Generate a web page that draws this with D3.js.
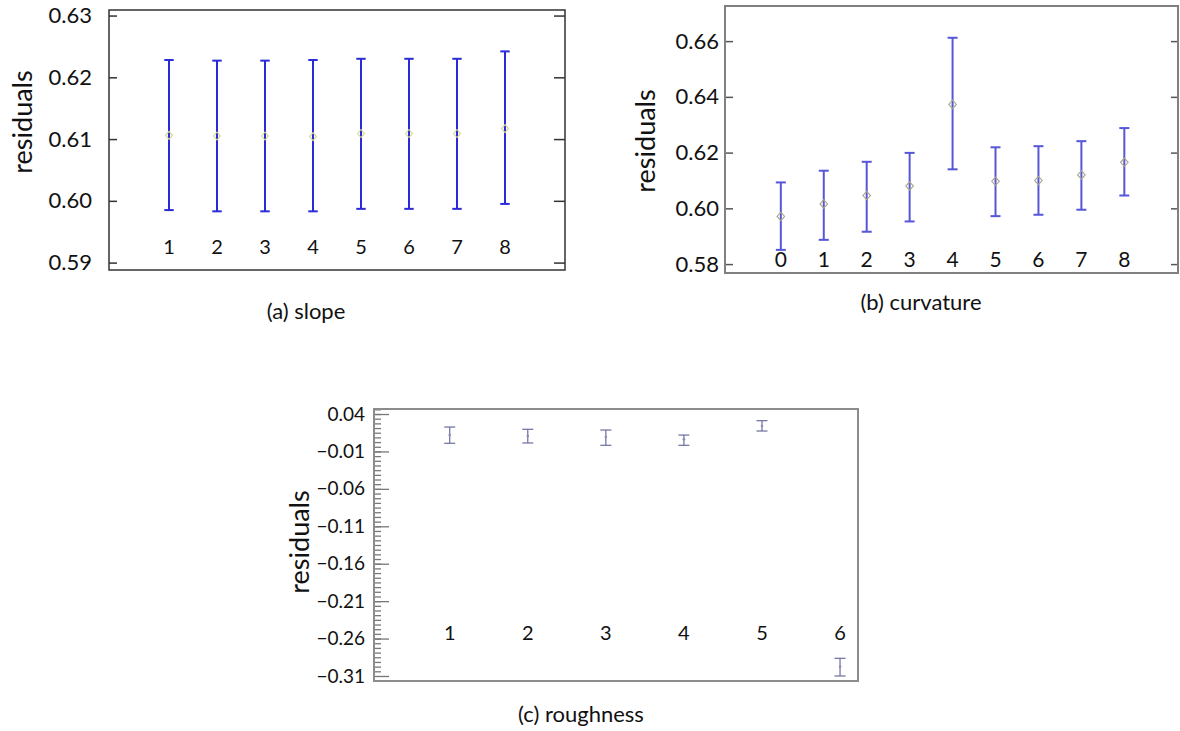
<!DOCTYPE html>
<html><head><meta charset="utf-8">
<script src="https://cdn.jsdelivr.net/npm/d3@7"></script>
<style>body{margin:0;background:#fff}</style>
</head><body><svg id="c" width="1180" height="731" style="background:#fff"></svg>
<script>
// ---------- (a) slope ----------
const slopeCats  = [1,2,3,4,5,6,7,8];
const slopeMean  = [0.6106,0.6105,0.6105,0.6104,0.6109,0.6109,0.6109,0.6117];
const slopeUpper = [0.6228,0.6227,0.6227,0.6228,0.6230,0.6230,0.6230,0.6242];
const slopeLower = [0.5985,0.5983,0.5983,0.5983,0.5987,0.5987,0.5987,0.5995];
const slopeTicks = [0.59,0.60,0.61,0.62,0.63];

// ---------- (b) curvature ----------
const curvCats  = [0,1,2,3,4,5,6,7,8];
const curvMean  = [0.5971,0.6016,0.6046,0.6080,0.6373,0.6097,0.6100,0.6120,0.6165];
const curvUpper = [0.6093,0.6135,0.6167,0.6199,0.6612,0.6219,0.6223,0.6241,0.6288];
const curvLower = [0.5851,0.5887,0.5916,0.5953,0.6140,0.5972,0.5977,0.5995,0.6046];
const curvTicks = [0.58,0.60,0.62,0.64,0.66];

// ---------- (c) roughness ----------
const roughCats  = [1,2,3,4,5,6];
const roughMean  = [0.0119,0.0106,0.0093,0.0062,0.0240,-0.2976];
const roughUpper = [0.0226,0.0196,0.0186,0.0119,0.0311,-0.2864];
const roughLower = [0.0009,0.0013,-0.0018,-0.0018,0.0173,-0.3100];
const roughTicks = [0.04,-0.01,-0.06,-0.11,-0.16,-0.21,-0.26,-0.31];

const yLabel = "residuals";
const captions = ["(a) slope","(b) curvature","(c) roughness"];

const FONT = "Lato, 'Open Sans', sans-serif";
const svg = d3.select('#c');

function drawPanel(o){
  const x = d3.scaleLinear().domain(o.xDomain).range([o.l, o.r]);
  const y = d3.scaleLinear().domain(o.yDomain).range([o.b, o.t]);
  const g = svg.append('g');

  if (o.minor) {
    const ma = g.append('g').attr('transform',`translate(${o.l},0)`)
      .call(d3.axisLeft(y).tickValues(o.minor).tickFormat('').tickSize(-o.minorLen));
    ma.select('.domain').remove();
    ma.selectAll('line').attr('stroke',o.tickColor).attr('stroke-width',o.tickW);
  }
  const ax = g.append('g').attr('transform',`translate(${o.l},0)`)
    .call(d3.axisLeft(y).tickValues(o.ticks).tickFormat(d3.format(o.fmt)).tickSize(-o.tickLen).tickPadding(o.pad));
  ax.attr('font-family',FONT).attr('font-size',o.fs);
  ax.select('.domain').remove();
  ax.selectAll('line').attr('stroke',o.tickColor).attr('stroke-width',o.tickW);
  ax.selectAll('text').attr('fill','#111');
  if (o.rightTicks) {
    const ar = g.append('g').attr('transform',`translate(${o.r},0)`)
      .call(d3.axisRight(y).tickValues(o.ticks).tickFormat('').tickSize(-o.rightLen));
    ar.select('.domain').remove();
    ar.selectAll('line').attr('stroke',o.tickColor).attr('stroke-width',o.tickW);
  }
  g.append('rect').attr('x',o.l).attr('y',o.t).attr('width',o.r-o.l).attr('height',o.b-o.t)
    .attr('fill','none').attr('stroke',o.frame).attr('stroke-width',o.frameW);

  const data = o.cats.map((c,i)=>({c, m:o.mean[i], u:o.upper[i], lo:o.lower[i]}));
  const eb = g.append('g').attr('stroke',o.barColor).attr('stroke-width',o.barW);
  eb.selectAll('line.v').data(data).join('line').attr('class','v')
    .attr('x1',d=>x(d.c)).attr('x2',d=>x(d.c)).attr('y1',d=>y(d.u)).attr('y2',d=>y(d.lo));
  eb.selectAll('line.cu').data(data).join('line').attr('class','cu')
    .attr('x1',d=>x(d.c)-o.cap).attr('x2',d=>x(d.c)+o.cap).attr('y1',d=>y(d.u)).attr('y2',d=>y(d.u));
  eb.selectAll('line.cl').data(data).join('line').attr('class','cl')
    .attr('x1',d=>x(d.c)-o.cap).attr('x2',d=>x(d.c)+o.cap).attr('y1',d=>y(d.lo)).attr('y2',d=>y(d.lo));

  if (o.marker === 'diamond') {
    g.selectAll('path.mk').data(data).join('path').attr('class','mk')
      .attr('d',d=>{const cx=x(d.c), cy=y(d.m), w=o.mw, h=o.mh;
        return `M${cx},${cy-h}L${cx+w},${cy}L${cx},${cy+h}L${cx-w},${cy}Z`;})
      .attr('fill','none').attr('stroke',o.markColor).attr('stroke-width',1.1);
  } else {
    g.selectAll('circle.mk').data(data).join('circle').attr('class','mk')
      .attr('cx',d=>x(d.c)).attr('cy',d=>y(d.m)).attr('r',1.3).attr('fill',o.markColor);
  }

  g.selectAll('text.cat').data(o.cats).join('text').attr('class','cat')
    .attr('x',d=>x(d)).attr('y',o.catY).attr('dy','0.35em')
    .attr('text-anchor','middle').attr('font-family',FONT).attr('font-size',o.catFs).attr('fill','#111')
    .text(d=>d);

  g.append('text').attr('transform',`translate(${o.ylx},${o.yly}) rotate(-90)`)
    .attr('text-anchor','middle').attr('dy','0.35em').attr('font-family',FONT).attr('font-size',27)
    .attr('fill','#111').text(yLabel);

  g.append('text').attr('x',o.capX).attr('y',o.capY).attr('dy','0.35em').attr('text-anchor','middle')
    .attr('font-family',FONT).attr('font-size',22).attr('fill','#111').text(o.caption);
}

drawPanel({
  l:109, r:565, t:10, b:270, xDomain:[-0.25,9.25], yDomain:[0.5888,0.6309],
  cats:slopeCats, mean:slopeMean, upper:slopeUpper, lower:slopeLower,
  ticks:slopeTicks, fmt:'.2f', fs:22, pad:17, tickLen:8, rightTicks:true, rightLen:11,
  tickColor:'#333', tickW:1.5, frame:'#333', frameW:1.5,
  barColor:'#2a2ad8', barW:2, cap:4.7, marker:'diamond', mw:3.4, mh:4, markColor:'#d2d68a',
  catY:247, catFs:20, ylx:23, yly:122, caption:captions[0], capX:306, capY:311
});

drawPanel({
  l:725, r:1178, t:6, b:273, xDomain:[-1.3,9.25], yDomain:[0.5768,0.6726],
  cats:curvCats, mean:curvMean, upper:curvUpper, lower:curvLower,
  ticks:curvTicks, fmt:'.2f', fs:22, pad:6, tickLen:8, rightTicks:true, rightLen:7,
  tickColor:'#555', tickW:1.5, frame:'#808080', frameW:2,
  barColor:'#5656d8', barW:2, cap:5, marker:'diamond', mw:3.8, mh:4.2, markColor:'#aaa58a',
  catY:260, catFs:21, ylx:646, yly:141, caption:captions[1], capX:921, capY:302
});

const roughMinor = d3.range(0, 57).map(i => 0.04 + 0.00625 - i*0.00625).filter(v => v > -0.3167);
drawPanel({
  l:374, r:858, t:409, b:681, xDomain:[0.03,6.23], yDomain:[-0.3167,0.0467],
  cats:roughCats, mean:roughMean, upper:roughUpper, lower:roughLower,
  ticks:roughTicks, fmt:'.2f', fs:19, pad:9, tickLen:15, minor:roughMinor, minorLen:7, rightTicks:false,
  tickColor:'#777', tickW:1.3, frame:'#8c8c8c', frameW:2,
  barColor:'#6a6e9c', barW:1.2, cap:5.5, marker:'dot', markColor:'#8a8ab4',
  catY:633, catFs:20, ylx:300, yly:542, caption:captions[2], capX:581, capY:714
});
</script>
</body></html>
